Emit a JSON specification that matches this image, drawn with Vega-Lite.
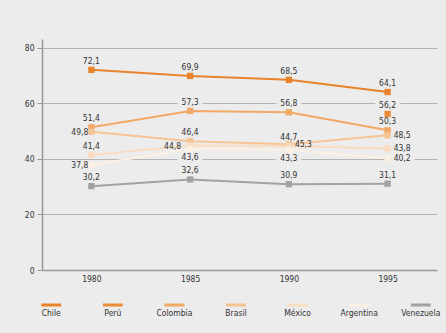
{
  "$schema": "https://vega.github.io/schema/vega-lite/v6.json",
  "background": "#ececec",
  "padding": {"left": 24, "top": 39, "right": 9, "bottom": 20},
  "spacing": 14,
  "config": {
    "view": {"stroke": null},
    "font": "'DejaVu Sans Condensed', 'Liberation Sans', sans-serif",
    "locale": {"number": {"decimal": ",", "thousands": ".", "grouping": [3], "currency": ["", " €"]}},
    "text": {"font": "'DejaVu Sans Condensed', 'Liberation Sans', sans-serif", "fontSize": 8.5}
  },
  "datasets": {
    "serie": [
      {"pais": "Chile", "anio": "1980", "valor": 72.1},
      {"pais": "Chile", "anio": "1985", "valor": 69.9},
      {"pais": "Chile", "anio": "1990", "valor": 68.5},
      {"pais": "Chile", "anio": "1995", "valor": 64.1},
      {"pais": "Perú", "anio": "1995", "valor": 56.2},
      {"pais": "Colombia", "anio": "1980", "valor": 51.4},
      {"pais": "Colombia", "anio": "1985", "valor": 57.3},
      {"pais": "Colombia", "anio": "1990", "valor": 56.8},
      {"pais": "Colombia", "anio": "1995", "valor": 50.3},
      {"pais": "Brasil", "anio": "1980", "valor": 49.8},
      {"pais": "Brasil", "anio": "1985", "valor": 46.4},
      {"pais": "Brasil", "anio": "1990", "valor": 45.3},
      {"pais": "Brasil", "anio": "1995", "valor": 48.5},
      {"pais": "México", "anio": "1980", "valor": 41.4},
      {"pais": "México", "anio": "1985", "valor": 44.8},
      {"pais": "México", "anio": "1990", "valor": 44.7},
      {"pais": "México", "anio": "1995", "valor": 43.8},
      {"pais": "Argentina", "anio": "1980", "valor": 37.8},
      {"pais": "Argentina", "anio": "1985", "valor": 43.6},
      {"pais": "Argentina", "anio": "1990", "valor": 43.3},
      {"pais": "Argentina", "anio": "1995", "valor": 40.2},
      {"pais": "Venezuela", "anio": "1980", "valor": 30.2},
      {"pais": "Venezuela", "anio": "1985", "valor": 32.6},
      {"pais": "Venezuela", "anio": "1990", "valor": 30.9},
      {"pais": "Venezuela", "anio": "1995", "valor": 31.1}
    ],
    "paises": [
      {"pais": "Chile"}, {"pais": "Perú"}, {"pais": "Colombia"}, {"pais": "Brasil"},
      {"pais": "México"}, {"pais": "Argentina"}, {"pais": "Venezuela"}
    ]
  },
  "vconcat": [
    {
      "width": 395,
      "height": 231,
      "data": {"name": "serie"},
      "encoding": {
        "x": {
          "field": "anio", "type": "ordinal",
          "scale": {"type": "point", "padding": 0.5},
          "axis": {"title": null, "labelAngle": 0, "ticks": false, "labelPadding": 4, "labelFontSize": 8.5, "labelColor": "#333", "domainColor": "#999", "domainWidth": 1.5, "grid": false}
        },
        "y": {
          "field": "valor", "type": "quantitative",
          "scale": {"domain": [0, 83.2], "nice": false, "zero": true},
          "axis": {"title": null, "values": [0, 20, 40, 60, 80], "tickSize": 5, "tickColor": "#999", "labelPadding": 3, "labelFontSize": 8.5, "labelColor": "#333", "domainColor": "#999", "domainWidth": 1.5, "gridColor": "#b4b4b4", "gridWidth": 1}
        }
      },
      "layer": [
        {
          "transform": [{"filter": "datum.pais == 'Chile' || datum.pais == 'Colombia' || datum.pais == 'Perú' || datum.pais == 'Venezuela' || (datum.pais == 'Brasil' && datum.anio == '1985') || (datum.pais == 'México' && (datum.anio == '1980' || datum.anio == '1990'))"}],
          "mark": {"type": "text", "dy": -9, "fill": "#ececec", "stroke": "#ececec", "strokeWidth": 9, "strokeJoin": "round"},
          "encoding": {"text": {"field": "valor", "type": "quantitative", "format": ".1f"}}
        },
        {
          "transform": [{"filter": "(datum.pais == 'Brasil' && datum.anio == '1990') || (datum.anio == '1995' && (datum.pais == 'Brasil' || datum.pais == 'México' || datum.pais == 'Argentina'))"}],
          "mark": {"type": "text", "align": "left", "dx": 6, "fill": "#ececec", "stroke": "#ececec", "strokeWidth": 9, "strokeJoin": "round"},
          "encoding": {"text": {"field": "valor", "type": "quantitative", "format": ".1f"}}
        },
        {
          "transform": [{"filter": "datum.pais == 'Argentina' && (datum.anio == '1985' || datum.anio == '1990')"}],
          "mark": {"type": "text", "dy": 8, "fill": "#ececec", "stroke": "#ececec", "strokeWidth": 9, "strokeJoin": "round"},
          "encoding": {"text": {"field": "valor", "type": "quantitative", "format": ".1f"}}
        },
        {
          "mark": {"type": "line", "strokeWidth": 2},
          "encoding": {
            "color": {"field": "pais", "type": "nominal", "legend": null,
              "scale": {"domain": ["Chile", "Perú", "Colombia", "Brasil", "México", "Argentina", "Venezuela"],
                        "range": ["#e8832b", "#ec8c38", "#f2a867", "#f6c393", "#f9dcc0", "#fcf0e3", "#a2a2a2"]}}
          }
        },
        {
          "mark": {"type": "point", "shape": "square", "filled": true, "size": 40, "opacity": 1},
          "encoding": {
            "color": {"field": "pais", "type": "nominal", "legend": null}
          }
        },
        {
          "transform": [{"filter": "datum.pais == 'Chile' || datum.pais == 'Colombia' || datum.pais == 'Perú' || datum.pais == 'Venezuela' || (datum.pais == 'Brasil' && datum.anio == '1985') || (datum.pais == 'México' && (datum.anio == '1980' || datum.anio == '1990'))"}],
          "mark": {"type": "text", "dy": -9, "color": "#333"},
          "encoding": {"text": {"field": "valor", "type": "quantitative", "format": ".1f"}}
        },
        {
          "transform": [{"filter": "(datum.pais == 'Brasil' && datum.anio == '1990') || (datum.anio == '1995' && (datum.pais == 'Brasil' || datum.pais == 'México' || datum.pais == 'Argentina'))"}],
          "mark": {"type": "text", "align": "left", "dx": 6, "color": "#333"},
          "encoding": {"text": {"field": "valor", "type": "quantitative", "format": ".1f"}}
        },
        {
          "transform": [{"filter": "datum.pais == 'Argentina' && (datum.anio == '1985' || datum.anio == '1990')"}],
          "mark": {"type": "text", "dy": 8, "color": "#333"},
          "encoding": {"text": {"field": "valor", "type": "quantitative", "format": ".1f"}}
        },
        {
          "transform": [{"filter": "(datum.pais == 'Brasil' || datum.pais == 'Argentina') && datum.anio == '1980'"}],
          "mark": {"type": "text", "align": "right", "dx": -3, "color": "#333"},
          "encoding": {"text": {"field": "valor", "type": "quantitative", "format": ".1f"}}
        },
        {
          "transform": [{"filter": "datum.pais == 'México' && datum.anio == '1985'"}],
          "mark": {"type": "text", "align": "right", "dx": -9, "color": "#333"},
          "encoding": {"text": {"field": "valor", "type": "quantitative", "format": ".1f"}}
        }
      ]
    },
    {
      "width": 388,
      "height": 16,
      "data": {"name": "paises"},
      "encoding": {
        "x": {"field": "pais", "type": "nominal", "sort": null, "scale": {"type": "point", "padding": 0.15}, "axis": null}
      },
      "layer": [
        {
          "mark": {"type": "point", "shape": "stroke", "size": 400, "strokeWidth": 3, "opacity": 1},
          "encoding": {"color": {"field": "pais", "type": "nominal", "legend": null}}
        },
        {
          "mark": {"type": "text", "dy": 8, "color": "#333", "fontSize": 8.5},
          "encoding": {"text": {"field": "pais", "type": "nominal"}}
        }
      ]
    }
  ]
}
